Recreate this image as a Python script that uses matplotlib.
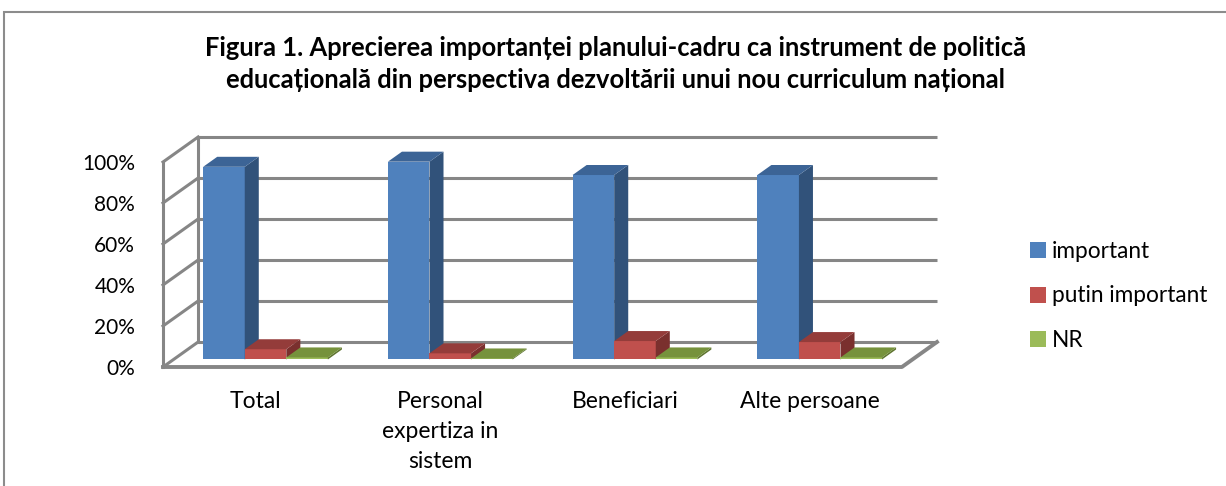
import matplotlib
matplotlib.use("Agg")
import matplotlib.pyplot as plt
from matplotlib.patches import Polygon, Rectangle
import numpy as np

categories = ["Total", "Personal\nexpertiza in\nsistem", "Beneficiari", "Alte persoane"]
series_names = ["important", "putin important", "NR"]
important = [94, 96.5, 90, 90]
putin_important = [5, 3, 9, 8.5]
nr = [1, 0.5, 1, 1]
yticks = [0, 20, 40, 60, 80, 100]
title = ("Figura 1. Aprecierea importanței planului-cadru ca instrument de politică\n"
         "educațională din perspectiva dezvoltării unui nou curriculum național")

front_cols = ["#4F81BD", "#C0504D", "#9BBB59"]
top_cols = ["#3C6496", "#943C3A", "#76923C"]
side_cols = ["#31527A", "#7A302E", "#5F7530"]

plt.rcParams['font.family'] = ['Lato', 'DejaVu Sans']

W, H = 1226, 486
fig = plt.figure(figsize=(W / 100, H / 100), dpi=100)

# axes placed in pixels
ax_l, ax_r, ax_b, ax_t = 163, 937, 367, 137
ax = fig.add_axes([ax_l / W, (H - ax_b) / H, (ax_r - ax_l) / W, (ax_b - ax_t) / H])
DX = 0.19      # depth offset in x data units
DY = 12.2      # depth offset in y data units
ax.set_xlim(0, 4 + DX)
ax.set_ylim(0, 100 + DY)
for s in ax.spines.values():
    s.set_visible(False)
ax.patch.set_visible(False)

wall = "#868686"
lw = 2.2
# back wall gridlines and left wall
for t in yticks:
    ax.plot([DX, 4 + DX], [t + DY, t + DY], color=wall, lw=lw, clip_on=False, zorder=1,
            solid_capstyle='butt')
    ax.plot([0, DX], [t, t + DY], color=wall, lw=lw, clip_on=False, zorder=1)
ax.plot([0, 0], [0, 100], color=wall, lw=lw, clip_on=False, zorder=1)
ax.plot([DX, DX], [DY, 100 + DY], color=wall, lw=lw, clip_on=False, zorder=1)
# floor
ax.plot([0, 4, 4 + DX], [0, 0, DY], color=wall, lw=lw + 0.6, clip_on=False, zorder=1)

# bars
group_w = 0.675
bw = group_w / 3
f0, f1 = 0.3, 0.7
series = [important, putin_important, nr]
for i in range(len(categories)):
    start = i + 0.5 - group_w / 2 - f0 * DX + 0.055
    for k, vals in enumerate(series):
        v = vals[i]
        x0 = start + k * bw + f0 * DX
        y0 = f0 * DY
        ddx = (f1 - f0) * DX
        ddy = (f1 - f0) * DY
        ax.add_patch(Rectangle((x0, y0), bw, v, facecolor=front_cols[k], edgecolor='none',
                               clip_on=False, zorder=3))
        ax.add_patch(Polygon([(x0 + bw, y0), (x0 + bw + ddx, y0 + ddy),
                              (x0 + bw + ddx, y0 + ddy + v), (x0 + bw, y0 + v)],
                             closed=True, facecolor=side_cols[k], edgecolor='none',
                             clip_on=False, zorder=3))
        ax.add_patch(Polygon([(x0, y0 + v), (x0 + bw, y0 + v),
                              (x0 + bw + ddx, y0 + v + ddy), (x0 + ddx, y0 + v + ddy)],
                             closed=True, facecolor=top_cols[k], edgecolor='none',
                             clip_on=False, zorder=3))

ax.set_yticks(yticks)
ax.set_yticklabels([f"{t}%" for t in yticks])
ax.set_xticks([i + 0.5 for i in range(len(categories))])
ax.set_xticklabels(categories, linespacing=1.55)
ax.tick_params(axis='y', length=0, pad=20, labelsize=15)
ax.tick_params(axis='x', length=0, pad=17, labelsize=16.5)

# legend
handles = [Rectangle((0, 0), 1, 1, facecolor=c) for c in front_cols]
fig.legend(handles, series_names, loc='center left', bbox_to_anchor=(1010 / W, 1 - 296 / H),
           frameon=False, fontsize=16.3, handlelength=0.7, handleheight=0.7,
           handletextpad=0.25, labelspacing=1.05)

fig.text(616 / W, 1 - 64 / H, title, ha='center', va='center', fontsize=18.4,
         fontweight='bold', linespacing=1.43)

# chart border
fig.add_artist(Rectangle((4 / W, -0.1), 1.2, 1 - 12 / H + 0.1, transform=fig.transFigure,
                         facecolor='none', edgecolor='#8C8C8C', lw=1.5))

fig.savefig("out.png", dpi=100)
